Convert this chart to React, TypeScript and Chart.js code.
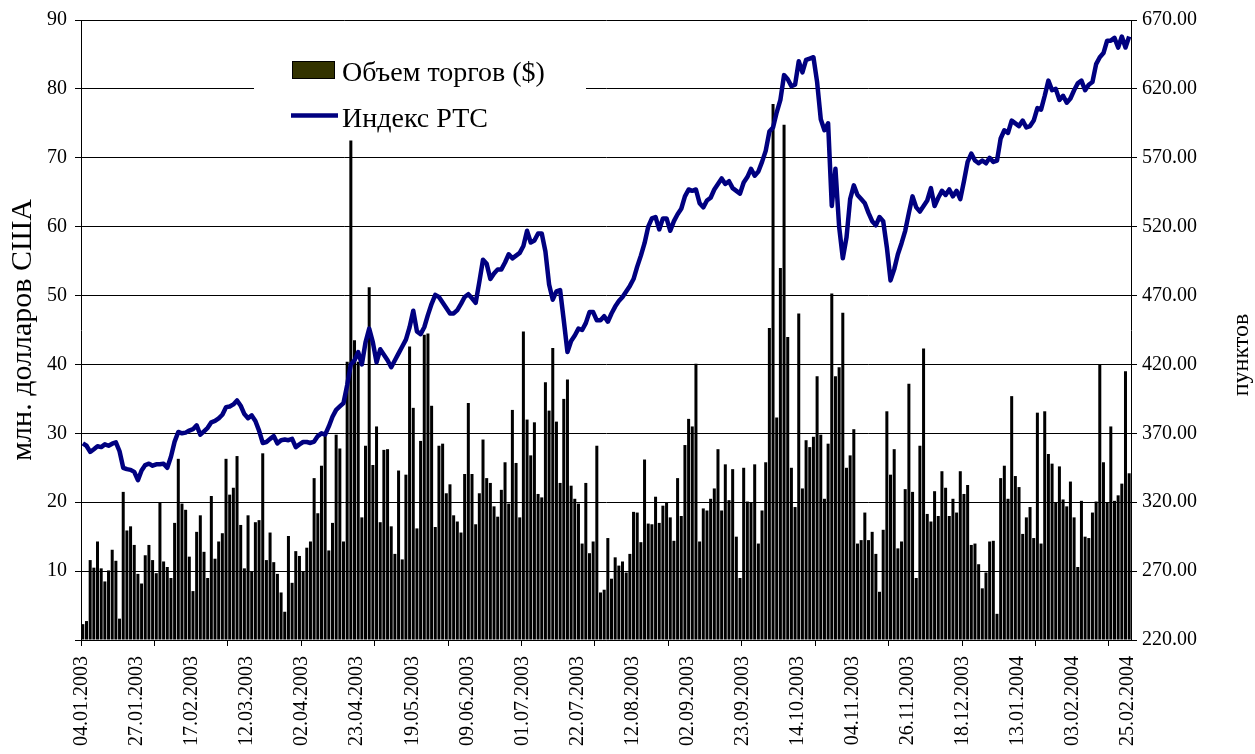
import React, { useEffect, useRef } from 'react';
import { Chart, registerables } from 'chart.js';

Chart.register(...registerables);

const tickLabels = [
  '04.01.2003', '27.01.2003', '17.02.2003', '12.03.2003', '02.04.2003',
  '23.04.2003', '19.05.2003', '09.06.2003', '01.07.2003', '22.07.2003',
  '12.08.2003', '02.09.2003', '23.09.2003', '14.10.2003', '04.11.2003',
  '26.11.2003', '18.12.2003', '13.01.2004', '03.02.2004', '25.02.2004',
];

// Trading volume, mln USD (left axis)
const volume = [
  2.3, 2.75, 11.6, 10.5, 14.3, 10.4, 8.5, 10.1, 13.1, 11.5,
  3.1, 21.5, 15.9, 16.5, 13.8, 9.6, 8.2, 12.3, 13.8, 11.6,
  9.7, 20.0, 11.4, 10.6, 9.0, 17.0, 26.3, 19.8, 18.9, 12.1,
  7.1, 15.7, 18.1, 12.8, 9.0, 20.9, 11.8, 14.3, 15.5, 26.3,
  21.1, 22.1, 26.7, 16.7, 10.4, 18.1, 9.9, 17.1, 17.4, 27.1,
  11.6, 15.6, 11.3, 9.6, 6.9, 4.1, 15.1, 8.3, 12.9, 12.2,
  10.0, 13.4, 14.3, 23.5, 18.4, 25.3, 29.9, 13.0, 17.0, 29.8,
  27.8, 14.3, 40.4, 72.5, 43.5, 40.4, 17.8, 28.2, 51.2, 25.4,
  31.0, 17.1, 27.6, 27.7, 16.5, 12.5, 24.6, 11.7, 24.0, 42.6,
  33.7, 16.2, 28.9, 44.3, 44.5, 34.0, 16.4, 28.2, 28.5, 21.3,
  22.6, 18.1, 17.2, 15.6, 24.1, 34.4, 24.1, 16.8, 21.3, 29.1,
  23.5, 22.8, 19.4, 17.9, 21.8, 25.8, 19.8, 33.4, 25.7, 17.8,
  44.8, 32.0, 26.8, 31.6, 21.2, 20.7, 37.4, 33.3, 42.4, 31.7,
  22.8, 35.0, 37.8, 22.4, 20.5, 19.8, 14.0, 22.8, 12.6, 14.3,
  28.2, 6.9, 7.3, 14.8, 8.9, 12.0, 10.8, 11.4, 9.8, 12.5,
  18.6, 18.5, 14.2, 26.2, 16.9, 16.8, 20.8, 17.0, 19.5, 20.0,
  17.8, 14.4, 23.5, 18.0, 28.3, 32.1, 31.0, 40.1, 14.3, 19.1,
  18.8, 20.5, 22.0, 27.7, 18.8, 25.5, 20.3, 24.8, 15.0, 9.0,
  25.0, 20.1, 20.0, 25.5, 14.0, 18.8, 25.8, 45.3, 77.8, 32.3,
  54.0, 74.8, 44.0, 25.0, 19.3, 47.4, 22.0, 29.0, 28.0, 29.5,
  38.3, 29.8, 20.5, 28.5, 50.3, 38.3, 39.6, 47.5, 25.0, 26.8,
  30.6, 14.0, 14.5, 18.5, 14.5, 15.7, 12.5, 7.0, 16.0, 33.2,
  24.0, 27.7, 13.3, 14.3, 21.9, 37.2, 21.5, 9.0, 28.2, 42.3,
  18.3, 17.2, 21.6, 18.0, 24.5, 22.1, 18.0, 20.5, 18.5, 24.5,
  21.2, 22.5, 13.8, 14.0, 11.0, 7.5, 9.8, 14.3, 14.4, 3.8,
  23.5, 25.3, 20.5, 35.4, 23.8, 22.2, 15.4, 17.8, 19.3, 14.8,
  33.0, 14.0, 33.2, 27.0, 25.6, 20.0, 25.2, 20.4, 19.4, 23.0,
  17.8, 10.6, 20.2, 15.0, 14.8, 18.5, 20.1, 40.0, 25.8, 20.0,
  31.0, 20.2, 21.0, 22.7, 39.0, 24.2,
];

// RTS index, points (right axis)
const rts = [
  362.7, 361, 356.5, 358.5, 360.6, 360, 362, 361, 362.5, 363.5,
  357, 345, 344, 343.5, 342, 336, 343, 347, 348, 346.5,
  347.5, 347.5, 348, 345, 353, 364, 371, 370, 370.5, 372,
  373, 375.8, 369, 371.5, 374, 378, 379, 380.8, 383.5, 389,
  389.5, 391, 393.9, 390, 384, 381, 383, 379, 372, 363,
  363.7, 366, 368, 362.7, 365, 365.5, 365, 366, 360, 362,
  363.7, 363.7, 363, 364, 368, 370, 369, 375, 382, 387,
  389.5, 392, 405, 420, 423, 429, 420, 436, 446, 436,
  421.5, 431, 427, 423, 418, 423, 428, 433, 438, 447,
  459, 444, 442, 447, 456, 464, 470.5, 469, 465, 461,
  457, 457, 459.5, 464, 469, 471, 468, 464.7, 480, 496,
  493, 482, 486, 489, 489, 494, 500, 497, 499, 501,
  506, 517, 508.5, 510, 515, 515, 502, 478, 467, 473,
  474, 452, 429, 437, 441, 446, 445, 450, 458, 458,
  452, 452, 455, 451, 457, 462, 466, 469, 473, 477,
  482, 491, 499, 508, 520, 526, 527, 518, 526, 526,
  517, 524, 529, 533, 542, 547, 546, 547, 537, 534,
  539, 541, 547, 551, 555, 551, 553, 548, 546, 544,
  552, 556, 562, 557, 560, 567, 575, 589, 592, 603,
  612, 630, 627, 622, 623, 640, 632, 641, 642, 643,
  625, 598, 590, 595, 535, 562, 520, 497, 512, 540,
  550, 543, 540, 537, 530, 524, 521, 527, 524, 505,
  481, 489, 500, 508, 517, 530, 542, 534, 531, 535,
  539, 548, 535, 541, 546, 543, 547, 542, 546, 540,
  553, 567, 573, 568, 566, 568, 566, 570, 567, 568,
  584, 590, 588, 597, 595, 593, 597, 592, 593, 597,
  606, 605, 615, 626, 619, 620, 612, 615, 610, 613,
  619, 624, 626, 619, 623, 625, 638, 643, 646, 655,
  655, 657, 650, 658, 650, 658,
];

const categories = volume.map((_, i) => (i % 15 === 0 ? tickLabels[i / 15] : ''));

const SERIF = '"Liberation Serif", "Times New Roman", serif';

const overlayPlugin = {
  id: 'overlay',
  afterDraw(chart: any) {
    const ctx = chart.ctx;
    ctx.save();
    // legend background (hides gridline behind legend)
    ctx.fillStyle = '#ffffff';
    ctx.fillRect(254, 48, 332, 86);
    // bar legend swatch
    ctx.fillStyle = '#333300';
    ctx.fillRect(292.5, 61.5, 42, 17);
    ctx.strokeStyle = '#000';
    ctx.lineWidth = 1;
    ctx.strokeRect(292.5, 61.5, 42, 17);
    ctx.fillStyle = '#000';
    ctx.font = `28px ${SERIF}`;
    ctx.textBaseline = 'alphabetic';
    ctx.textAlign = 'left';
    ctx.fillText('Объем торгов ($)', 342, 81);
    // line legend
    ctx.strokeStyle = '#000080';
    ctx.lineWidth = 4.5;
    ctx.beginPath();
    ctx.moveTo(291, 115.5);
    ctx.lineTo(338, 115.5);
    ctx.stroke();
    ctx.fillText('Индекс РТС', 342, 127);
    // right axis title
    ctx.translate(1242, 355);
    ctx.rotate(-Math.PI / 2);
    ctx.textAlign = 'center';
    ctx.textBaseline = 'middle';
    ctx.font = `24px ${SERIF}`;
    ctx.fillText('пунктов', 0, 0);
    ctx.restore();
  },
};

export default function App() {
  const canvasRef = useRef<HTMLCanvasElement | null>(null);

  useEffect(() => {
    if (!canvasRef.current) return;
    const chart = new Chart(canvasRef.current, {
      type: 'bar',
      data: {
        labels: categories,
        datasets: [
          {
            type: 'bar',
            label: 'Объем торгов ($)',
            data: volume,
            yAxisID: 'y',
            backgroundColor: '#000000',
            borderColor: '#000',
            borderWidth: 0,
            barPercentage: 0.82,
            categoryPercentage: 1,
            order: 1,
          },
          {
            type: 'line',
            label: 'Индекс РТС',
            data: rts,
            yAxisID: 'y1',
            borderColor: '#000080',
            borderWidth: 4.5,
            pointRadius: 0,
            tension: 0,
            borderJoinStyle: 'round',
            order: 0,
          },
        ],
      } as any,
      options: {
        animation: false,
        responsive: true,
        maintainAspectRatio: false,
        devicePixelRatio: 1,
        layout: { padding: { top: 19, left: 0, right: 0, bottom: 0 } },
        plugins: {
          legend: { display: false },
          tooltip: { enabled: false },
        },
        scales: {
          x: {
            type: 'category',
            offset: true,
            grid: {
              display: true,
              drawOnChartArea: false,
              drawTicks: true,
              tickLength: 6,
              offset: true,
              color: (c: any) => (c.index % 20 === 0 ? '#000' : 'rgba(0,0,0,0)'),
            },
            border: { display: true, color: '#000', width: 1 },
            ticks: {
              autoSkip: false,
              maxRotation: 90,
              minRotation: 90,
              padding: 10,
              labelOffset: -1,
              color: '#000',
              font: { family: SERIF, size: 20 },
            },
            afterFit: (s: any) => {
              s.height = 114;
            },
          },
          y: {
            position: 'left',
            min: 0,
            max: 90,
            grid: { color: '#000', lineWidth: 1, tickLength: 6 },
            border: { display: true, color: '#000', width: 1 },
            ticks: {
              stepSize: 10,
              padding: 8,
              color: '#000',
              font: { family: SERIF, size: 20 },
              callback: (v: any) => (v === 0 ? '' : String(v)),
            },
            title: {
              display: true,
              text: 'млн. долларов США',
              color: '#000',
              font: { family: SERIF, size: 30 },
              padding: { top: 5, bottom: 0 },
            },
            afterFit: (s: any) => {
              s.width = 81;
            },
          },
          y1: {
            position: 'right',
            min: 220,
            max: 670,
            grid: { drawOnChartArea: false, color: '#000', tickLength: 6 },
            border: { display: true, color: '#000', width: 1 },
            ticks: {
              stepSize: 50,
              padding: 5,
              color: '#000',
              font: { family: SERIF, size: 20 },
              callback: (v: any) => Number(v).toFixed(2),
            },
            afterFit: (s: any) => {
              s.width = 124;
            },
          },
        },
      } as any,
      plugins: [overlayPlugin],
    });
    return () => chart.destroy();
  }, []);

  return (
    <div
      style={{
        position: 'fixed',
        left: 0,
        top: 0,
        width: 1255,
        height: 754,
        background: '#fff',
      }}
    >
      <canvas ref={canvasRef} />
    </div>
  );
}
